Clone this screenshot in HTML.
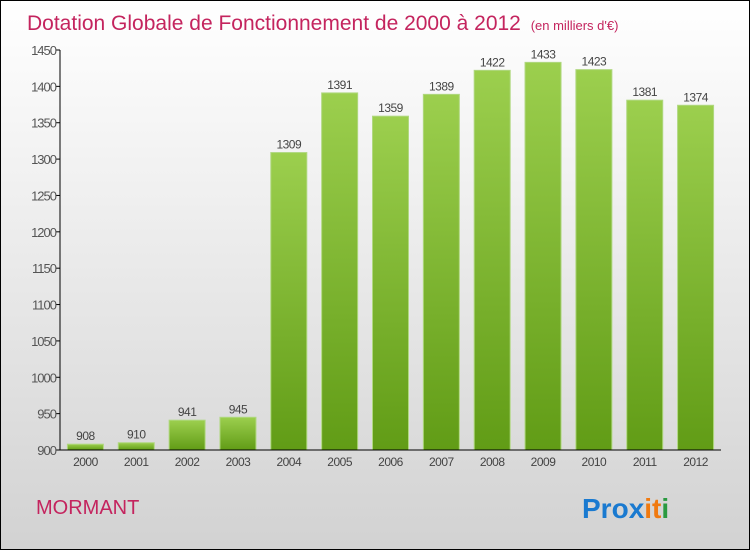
<!DOCTYPE html>
<html><head><meta charset="utf-8"><style>
body{margin:0}
#c{width:750px;height:550px;position:relative;box-sizing:border-box;border:1px solid #000;background:linear-gradient(#ffffff,#f2f2f2 30%,#d2d2d2);font-family:"Liberation Sans",sans-serif;overflow:hidden}
</style></head><body>
<div id="c">
<svg width="750" height="550" style="position:absolute;left:-1px;top:-1px" id="s">
<defs><linearGradient id="g" x1="0" y1="0" x2="0" y2="1"><stop offset="0" stop-color="#9ccf4e"/><stop offset="1" stop-color="#619c16"/></linearGradient></defs>
<text x="27" y="30" font-size="21" fill="#c4245e">Dotation Globale de Fonctionnement de 2000 à 2012 <tspan font-size="13" dx="4">(en milliers d'€)</tspan></text>
<text x="36" y="514" font-size="20" fill="#c4245e">MORMANT</text>
<text x="582" y="518" font-size="28" font-weight="bold"><tspan fill="#1a7ad0">Pro</tspan><tspan fill="#1a7ad0">x</tspan><tspan fill="#f07a10">i</tspan><tspan fill="#f07a10">t</tspan><tspan fill="#2a9a40">i</tspan></text>
</svg>
</div>
<script>
const years=["2000","2001","2002","2003","2004","2005","2006","2007","2008","2009","2010","2011","2012"];
const values=[908,910,941,945,1309,1391,1359,1389,1422,1433,1423,1381,1374];
const ticks=[900,950,1000,1050,1100,1150,1200,1250,1300,1350,1400,1450];
const s=document.getElementById('s');const NS="http://www.w3.org/2000/svg";
const x0=60,x1=721,yb=450,yt=50,vmin=900,vmax=1450;
const y=v=>yb-(v-vmin)/(vmax-vmin)*(yb-yt);
const step=(x1-x0)/years.length;const xc=i=>x0+step*(i+0.5);
function mk(t,a){const e=document.createElementNS(NS,t);for(const k in a)e.setAttribute(k,a[k]);s.appendChild(e);return e;}
ticks.forEach(t=>{
const l=mk('line',{x1:x0-4,x2:x0,y1:y(t),y2:y(t),stroke:'#000'});


const tx=mk('text',{x:x0-4,y:y(t)+5,'text-anchor':'end','font-size':'13',fill:'#555','letter-spacing':'-1'});tx.textContent=t;


});
years.forEach((yr,i)=>{
const bw=36;
const r=mk('rect',{x:xc(i)-bw/2,y:y(values[i]),width:bw,height:yb-y(values[i]),fill:'url(#g)',stroke:'#b0d880','stroke-width':'1'});


const v=mk('text',{x:xc(i),y:y(values[i])-4,'text-anchor':'middle','font-size':'12',fill:'#444','letter-spacing':'-0.5'});v.textContent=values[i];


const xl=mk('text',{x:xc(i),y:yb+16,'text-anchor':'middle','font-size':'12',fill:'#444','letter-spacing':'-0.5'});xl.textContent=yr;


});
const ya=mk('line',{x1:x0,x2:x0,y1:yt,y2:yb,stroke:'#000'});


const xa=mk('line',{x1:x0,x2:x1,y1:yb,y2:yb,stroke:'#000'});


</script>
</body></html>
